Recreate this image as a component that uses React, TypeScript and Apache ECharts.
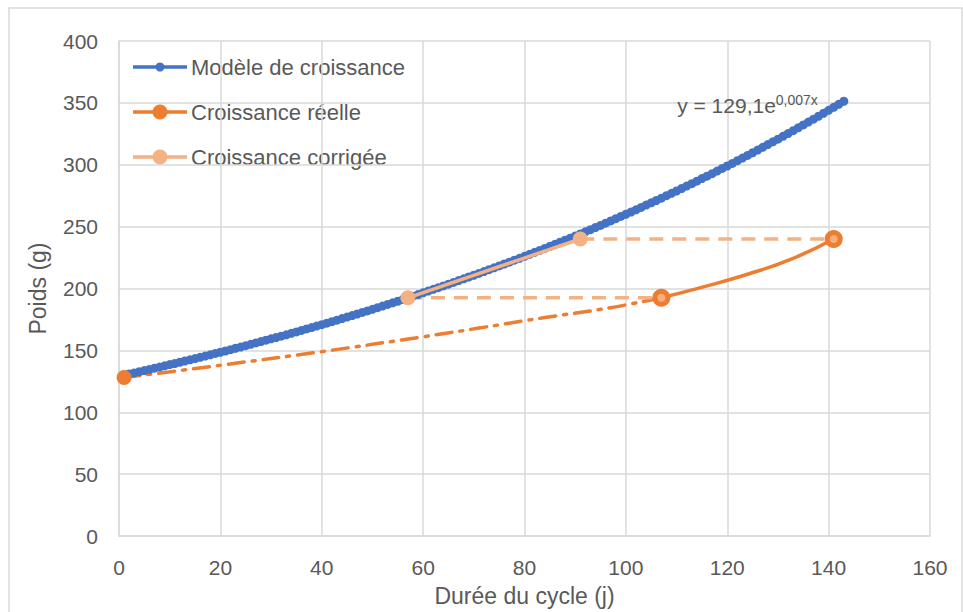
import React, { useEffect, useRef } from "react";
import * as echarts from "echarts";

// Modèle de croissance: x = 1..143 (one point per day)
const modelStartX = 1;
const modelValues = [
  130.0, 130.9, 131.8, 132.8, 133.7, 134.6, 135.6, 136.5, 137.5, 138.5,
  139.4, 140.4, 141.4, 142.4, 143.4, 144.4, 145.4, 146.4, 147.5, 148.5,
  149.5, 150.6, 151.7, 152.7, 153.8, 154.9, 156.0, 157.1, 158.2, 159.3,
  160.4, 161.5, 162.6, 163.8, 164.9, 166.1, 167.3, 168.4, 169.6, 170.8,
  172.0, 173.2, 174.4, 175.7, 176.9, 178.1, 179.4, 180.7, 181.9, 183.2,
  184.5, 185.8, 187.1, 188.4, 189.7, 191.1, 192.4, 193.8, 195.1, 196.5,
  197.9, 199.3, 200.7, 202.1, 203.5, 204.9, 206.4, 207.8, 209.3, 210.7,
  212.2, 213.7, 215.2, 216.7, 218.2, 219.8, 221.3, 222.9, 224.4, 226.0,
  227.6, 229.2, 230.8, 232.4, 234.1, 235.7, 237.4, 239.0, 240.7, 242.4,
  244.1, 245.8, 247.5, 249.3, 251.0, 252.8, 254.6, 256.4, 258.2, 260.0,
  261.8, 263.6, 265.5, 267.4, 269.2, 271.1, 273.0, 275.0, 276.9, 278.8,
  280.8, 282.8, 284.7, 286.7, 288.8, 290.8, 292.8, 294.9, 297.0, 299.0,
  301.1, 303.3, 305.4, 307.5, 309.7, 311.9, 314.1, 316.3, 318.5, 320.7,
  323.0, 325.2, 327.5, 329.8, 332.2, 334.5, 336.8, 339.2, 341.6, 344.0,
  346.4, 348.8, 351.3,
];

// Croissance réelle: markers
const reelleX = [1, 107, 141];
const reelleY = [128, 192.5, 240];
// Croissance réelle: dash-dot trend between first two markers
const trendX = [1, 20, 40, 60, 71, 84, 97, 107];
const trendY = [128, 138, 149, 161, 168, 176.5, 184.5, 192.5];
// Croissance réelle: solid curve between last two markers
const curveX = [107, 115.5, 124, 132.5, 141];
const curveY = [192.5, 201.5, 211.5, 223.5, 240];

// Croissance corrigée
const corrigeeX = [57, 91];
const corrigeeY = [192.5, 240];

// Horizontal dashed links (corrigée -> réelle)
const link1X = [57, 107];
const link1Y = [192.5, 192.5];
const link2X = [91, 141];
const link2Y = [240, 240];

const xTicks = { min: 0, max: 160, interval: 20 };
const yTicks = { min: 0, max: 400, interval: 50 };

const legendNames = ["Modèle de croissance", "Croissance réelle", "Croissance corrigée"];
const equationMain = "y = 129,1e";
const equationSup = "0,007x";
const equationAt = [124, 348];

const BLUE = "#4472C4";
const ORANGE = "#ED7D31";
const LIGHT = "#F4B183";
const TEXT = "#595959";
const GRID = "#D9D9D9";
const FONT = "Liberation Sans, Arial, sans-serif";

const pairs = (xs: number[], ys: number[]) => xs.map((x, i) => [x, ys[i]]);

export default function App() {
  const ref = useRef<HTMLDivElement>(null);

  useEffect(() => {
    if (!ref.current) return;
    const chart = echarts.init(ref.current, null, { renderer: "svg" });
    const modelData = modelValues.map((v, i) => [modelStartX + i, v]);

    const legendY = [67, 112, 157];
    const legendColors = [BLUE, ORANGE, LIGHT];
    const legendR = [4.5, 7.5, 7.5];
    const legendGraphics: any[] = [];
    legendNames.forEach((name, i) => {
      legendGraphics.push({
        type: "line",
        shape: { x1: 133, y1: legendY[i], x2: 187, y2: legendY[i] },
        style: { stroke: legendColors[i], lineWidth: 3.5 },
        silent: true,
      });
      legendGraphics.push({
        type: "circle",
        shape: { cx: 160, cy: legendY[i], r: legendR[i] },
        style: { fill: legendColors[i] },
        silent: true,
      });
      legendGraphics.push({
        type: "text",
        x: 191,
        y: legendY[i],
        style: {
          text: name,
          fill: TEXT,
          font: `22px ${FONT}`,
          verticalAlign: "middle",
        },
        silent: true,
      });
    });

    chart.setOption({
      animation: false,
      backgroundColor: "#ffffff",
      grid: { left: 119, top: 41, right: 33, bottom: 75, containLabel: false },
      xAxis: {
        type: "value",
        min: xTicks.min,
        max: xTicks.max,
        interval: xTicks.interval,
        name: "Durée du cycle (j)",
        nameLocation: "middle",
        nameGap: 48,
        nameTextStyle: { color: TEXT, fontSize: 23, fontFamily: FONT },
        axisLine: { show: true, lineStyle: { color: GRID, width: 1.5 } },
        axisTick: { show: false },
        axisLabel: { color: TEXT, fontSize: 21, fontFamily: FONT, margin: 21 },
        splitLine: { show: true, lineStyle: { color: GRID, width: 1.5 } },
      },
      yAxis: {
        type: "value",
        min: yTicks.min,
        max: yTicks.max,
        interval: yTicks.interval,
        name: "Poids (g)",
        nameLocation: "middle",
        nameGap: 70,
        nameTextStyle: { color: TEXT, fontSize: 23, fontFamily: FONT },
        axisLine: { show: true, lineStyle: { color: GRID, width: 1.5 } },
        axisTick: { show: false },
        axisLabel: { color: TEXT, fontSize: 21, fontFamily: FONT, margin: 21 },
        splitLine: { show: true, lineStyle: { color: GRID, width: 1.5 } },
      },
      graphic: [
        {
          type: "rect",
          shape: { x: 9, y: 8, width: 953, height: 700 },
          style: { fill: "none", stroke: GRID, lineWidth: 1.5 },
          silent: true,
          z: -10,
        },
        ...legendGraphics,
      ],
      series: [
        {
          name: "trend",
          type: "line",
          data: pairs(trendX, trendY),
          smooth: 0.4,
          showSymbol: false,
          symbol: "none",
          lineStyle: { color: ORANGE, width: 3.5, type: [16, 8, 3, 8], cap: "round" },
          z: 2,
        },
        {
          name: "link1",
          type: "line",
          data: pairs(link1X, link1Y),
          symbol: "none",
          lineStyle: { color: LIGHT, width: 3.5, type: [14, 9] },
          z: 2,
        },
        {
          name: "link2",
          type: "line",
          data: pairs(link2X, link2Y),
          symbol: "none",
          lineStyle: { color: LIGHT, width: 3.5, type: [14, 9] },
          z: 2,
        },
        {
          name: legendNames[0],
          type: "line",
          data: modelData,
          symbol: "circle",
          symbolSize: 9,
          itemStyle: { color: BLUE },
          lineStyle: { color: BLUE, width: 3 },
          z: 3,
          markPoint: {
            symbol: "circle",
            symbolSize: 1,
            itemStyle: { color: "rgba(0,0,0,0)" },
            data: [
              {
                coord: equationAt,
                label: {
                  show: true,
                  position: "inside",
                  formatter: `{a|${equationMain}}{b|${equationSup}}`,
                  rich: {
                    a: { fontSize: 21, lineHeight: 24, color: TEXT, fontFamily: FONT },
                    b: { fontSize: 14, lineHeight: 14, color: TEXT, fontFamily: FONT, verticalAlign: "top" },
                  },
                },
              },
            ],
          },
        },
        {
          name: "curve",
          type: "line",
          data: pairs(curveX, curveY),
          smooth: 0.5,
          symbol: "none",
          lineStyle: { color: ORANGE, width: 3.5 },
          z: 4,
        },
        {
          name: legendNames[1],
          type: "scatter",
          data: reelleX.map((x, i) => ({
            value: [x, reelleY[i]],
            symbolSize: i === 0 ? 15 : 13,
            itemStyle:
              i === 0
                ? { color: ORANGE, opacity: 1 }
                : { color: "#F5B080", borderColor: ORANGE, borderWidth: 5, opacity: 1 },
          })),
          symbol: "circle",
          itemStyle: { opacity: 1 },
          z: 5,
        },
        {
          name: legendNames[2],
          type: "line",
          data: pairs(corrigeeX, corrigeeY),
          symbol: "circle",
          symbolSize: 15,
          itemStyle: { color: LIGHT },
          lineStyle: { color: LIGHT, width: 3.5 },
          z: 6,
        },
      ],
    });
    return () => chart.dispose();
  }, []);

  return (
    <div
      ref={ref}
      style={{ position: "fixed", left: 0, top: 0, width: 963, height: 612 }}
    />
  );
}
